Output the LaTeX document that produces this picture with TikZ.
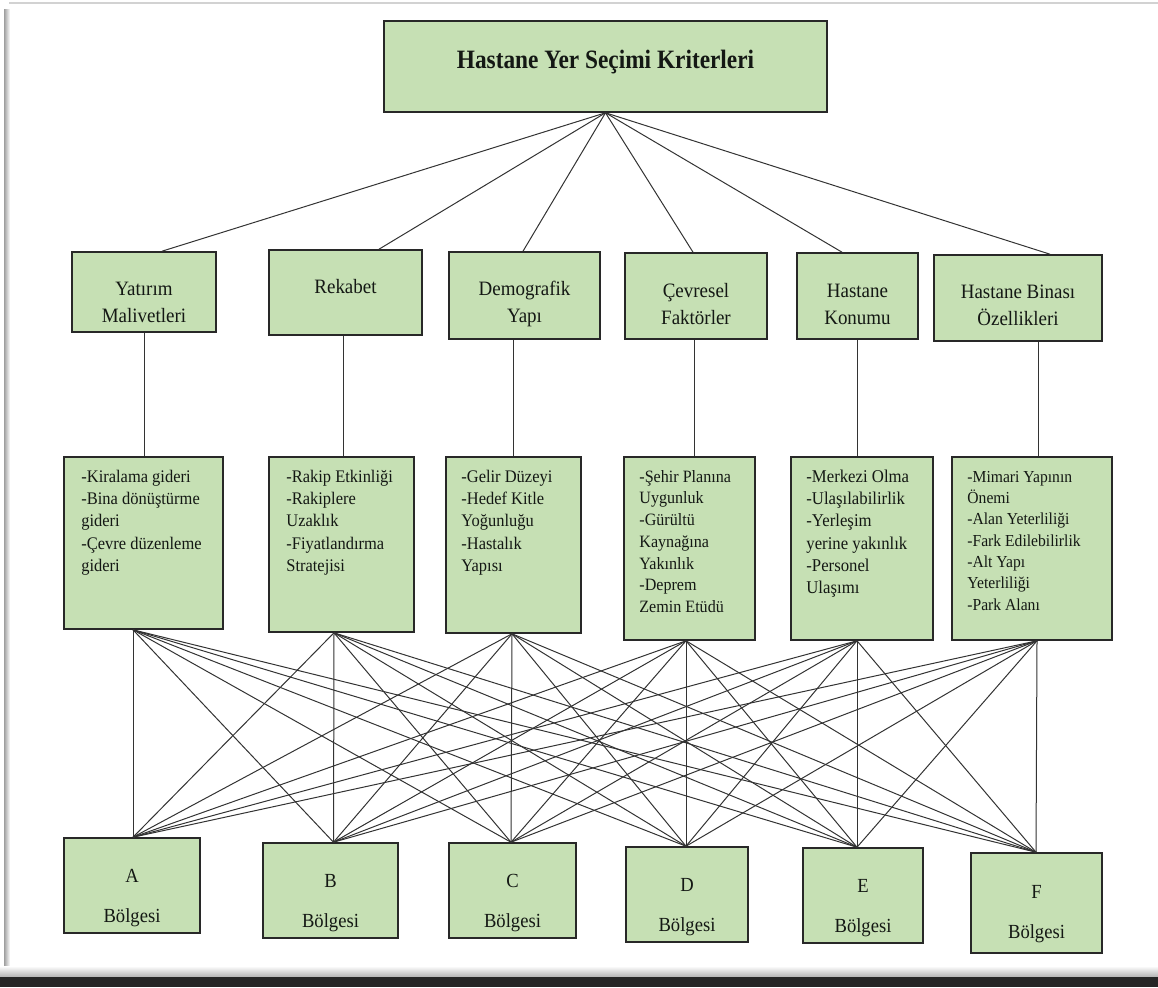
\documentclass[tikz,border=0pt]{standalone}
\usepackage{fontspec}
\setmainfont[FakeStretch=0.93]{Liberation Serif}
\newfontfamily\titlefont[FakeStretch=0.88]{Liberation Serif}
\definecolor{boxgreen}{RGB}{198,224,180}
\definecolor{edgegray}{RGB}{40,40,40}
\definecolor{ink}{RGB}{20,24,20}
\begin{document}
\begin{tikzpicture}[x=1pt,y=-1pt,
  box/.style={draw=edgegray, line width=1.6pt, fill=boxgreen, inner sep=0pt, rectangle},
  conn/.style={draw=black!80, line width=1pt},
  crittext/.style={anchor=base, inner sep=0pt, text=ink},
  subtext/.style={anchor=base west, inner sep=0pt, text=ink},
]
\useasboundingbox (0,0) rectangle (1158,987);
% page frame
\draw[gray!35, line width=1.2pt] (9,3) -- (1158,3);
\shade[left color=gray!75, right color=white] (4,10) rectangle (10,972);
\shade[top color=white, bottom color=gray!60] (0,966) rectangle (1158,977);
\fill[black!85] (0,977) rectangle (1158,987);

% top box
\node[box, minimum width=443pt, minimum height=91pt] (top) at (605.5,66.5) {};
\node[crittext, font=\titlefont\fontsize{26.5}{30}\selectfont\bfseries] (toptext) at (605.5,69) {Hastane Yer Seçimi Kriterleri};

% criteria boxes
\node[box, minimum width=144pt, minimum height=80pt] (c1) at (144,292) {};
\node[box, minimum width=153pt, minimum height=85pt] (c2) at (345.5,292.5) {};
\node[box, minimum width=151pt, minimum height=87pt] (c3) at (524.5,295.5) {};
\node[box, minimum width=142pt, minimum height=86pt] (c4) at (696,296) {};
\node[box, minimum width=121pt, minimum height=86pt] (c5) at (857.5,296) {};
\node[box, minimum width=168pt, minimum height=86pt] (c6) at (1018,298) {};

\newcommand{\crit}[1]{\parbox[t]{200pt}{\centering\fontsize{20.4}{27}\selectfont #1}}
\node[crittext] (ct1) at ([yshift=-44pt]c1.north) {\crit{Yatırım\\Malivetleri}};
\node[crittext] (ct2) at ([yshift=-44pt]c2.north) {\crit{Rekabet}};
\node[crittext] (ct3) at ([yshift=-44pt]c3.north) {\crit{Demografik\\Yapı}};
\node[crittext] (ct4) at ([yshift=-45pt]c4.north) {\crit{Çevresel\\Faktörler}};
\node[crittext] (ct5) at ([yshift=-45pt]c5.north) {\crit{Hastane\\Konumu}};
\node[crittext] (ct6) at ([yshift=-44pt]c6.north) {\crit{Hastane Binası\\Özellikleri}};

% sub-criteria boxes
\node[box, minimum width=159pt, minimum height=172pt] (s1) at (143.5,543) {};
\node[box, minimum width=145pt, minimum height=175pt] (s2) at (341.5,544.5) {};
\node[box, minimum width=135pt, minimum height=176pt] (s3) at (513.5,545) {};
\node[box, minimum width=131pt, minimum height=183pt] (s4) at (689.5,548.5) {};
\node[box, minimum width=142pt, minimum height=183pt] (s5) at (862,548.5) {};
\node[box, minimum width=160pt, minimum height=183pt] (s6) at (1032,548.5) {};

\newcommand{\sublist}[1]{\parbox[t]{200pt}{\raggedright\fontsize{17.7}{22.3}\selectfont #1}}
\node[subtext] (st1) at ([xshift=18pt,yshift=-26pt]s1.north west) {\sublist{-Kiralama gideri\\-Bina dönüştürme\\gideri\\-Çevre düzenleme\\gideri}};
\node[subtext] (st2) at ([xshift=18pt,yshift=-26pt]s2.north west) {\sublist{-Rakip Etkinliği\\-Rakiplere\\Uzaklık\\-Fiyatlandırma\\Stratejisi}};
\node[subtext] (st3) at ([xshift=16pt,yshift=-26pt]s3.north west) {\sublist{-Gelir Düzeyi\\-Hedef Kitle\\Yoğunluğu\\-Hastalık\\Yapısı}};
\node[subtext] (st4) at ([xshift=16pt,yshift=-26pt]s4.north west) {\parbox[t]{200pt}{\raggedright\fontsize{17.3}{21.7}\selectfont -Şehir Planına\\Uygunluk\\-Gürültü\\Kaynağına\\Yakınlık\\-Deprem\\Zemin Etüdü}};
\node[subtext] (st5) at ([xshift=16pt,yshift=-26pt]s5.north west) {\parbox[t]{200pt}{\raggedright\fontsize{18}{22.3}\selectfont -Merkezi Olma\\-Ulaşılabilirlik\\-Yerleşim\\yerine yakınlık\\-Personel\\Ulaşımı}};
\node[subtext] (st6) at ([xshift=16pt,yshift=-26pt]s6.north west) {\parbox[t]{200pt}{\raggedright\fontsize{16.8}{21.3}\selectfont -Mimari Yapının\\Önemi\\-Alan Yeterliliği\\-Fark Edilebilirlik\\-Alt Yapı\\Yeterliliği\\-Park Alanı}};

% region boxes
\node[box, minimum width=136pt, minimum height=95pt] (bA) at (132,885.5) {};
\node[box, minimum width=135pt, minimum height=95pt] (bB) at (330.5,890.5) {};
\node[box, minimum width=127pt, minimum height=95pt] (bC) at (512.5,890.5) {};
\node[box, minimum width=122pt, minimum height=95pt] (bD) at (687,894.5) {};
\node[box, minimum width=120pt, minimum height=95pt] (bE) at (863,895.5) {};
\node[box, minimum width=131pt, minimum height=100pt] (bF) at (1036.5,903) {};

\newcommand{\region}[1]{\parbox[t]{120pt}{\centering\fontsize{20}{40}\selectfont #1\\Bölgesi}}
\node[crittext] (rA) at ([yshift=-45pt]bA.north) {\region{A}};
\node[crittext] (rB) at ([yshift=-45pt]bB.north) {\region{B}};
\node[crittext] (rC) at ([yshift=-45pt]bC.north) {\region{C}};
\node[crittext] (rD) at ([yshift=-45pt]bD.north) {\region{D}};
\node[crittext] (rE) at ([yshift=-45pt]bE.north) {\region{E}};
\node[crittext] (rF) at ([yshift=-46pt]bF.north) {\region{F}};

% connectors top -> criteria
\draw[conn] (top.south) -- ([xshift=18pt]c1.north);
\draw[conn] (top.south) -- ([xshift=33.5pt]c2.north);
\draw[conn] (top.south) -- ([xshift=-1.5pt]c3.north);
\draw[conn] (top.south) -- ([xshift=-3pt]c4.north);
\draw[conn] (top.south) -- ([xshift=-15.5pt]c5.north);
\draw[conn] (top.south) -- ([xshift=32pt]c6.north);

% criteria -> sub-criteria
\coordinate (v1) at (c1.south);
\coordinate (v2) at ([xshift=1.5pt]s2.north);
\coordinate (v3) at (s3.north);
\coordinate (v4) at ([xshift=-2pt]c4.south);
\coordinate (v5) at (c5.south);
\coordinate (v6) at ([xshift=6pt]s6.north);
\draw[conn] (v1) -- (v1 |- s1.north);
\draw[conn] (v2) -- (v2 |- c2.south);
\draw[conn] (v3) -- (v3 |- c3.south);
\draw[conn] (v4) -- (v4 |- s4.north);
\draw[conn] (v5) -- (v5 |- s5.north);
\draw[conn] (v6) -- (v6 |- c6.south);

% sub-criteria -> regions (all pairs)
\coordinate (t1) at ([xshift=-10.5pt]s1.south);
\coordinate (t2) at ([xshift=-7.5pt]s2.south);
\coordinate (t3) at ([xshift=-1.5pt]s3.south);
\coordinate (t4) at ([xshift=-3.5pt]s4.south);
\coordinate (t5) at ([xshift=-5pt]s5.south);
\coordinate (t6) at ([xshift=5pt]s6.south);
\coordinate (u1) at ([xshift=1pt]bA.north);
\coordinate (u2) at ([xshift=3pt]bB.north);
\coordinate (u3) at ([xshift=-1.5pt]bC.north);
\coordinate (u4) at ([xshift=-1pt]bD.north);
\coordinate (u5) at ([xshift=-6pt]bE.north);
\coordinate (u6) at ([xshift=-0.5pt]bF.north);
\foreach \i in {1,...,6}{
  \foreach \j in {1,...,6}{
    \draw[conn] (t\i) -- (u\j);
  }
}
\end{tikzpicture}
\end{document}
